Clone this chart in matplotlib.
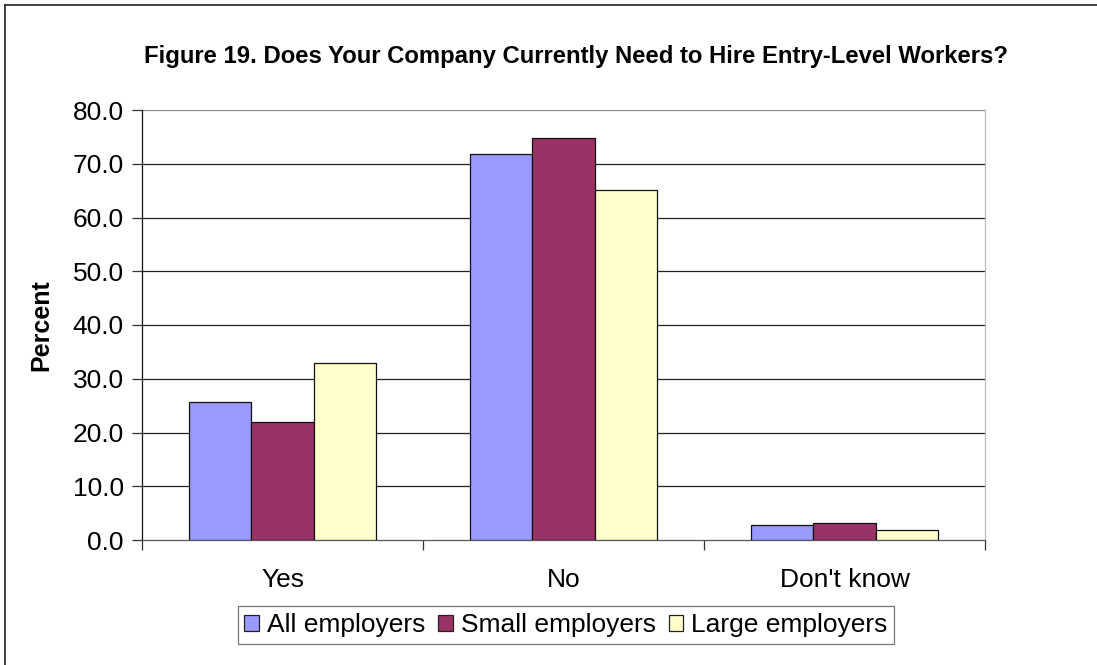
import matplotlib
matplotlib.use("Agg")
import matplotlib.pyplot as plt
from matplotlib.lines import Line2D
from matplotlib.patches import Patch
import numpy as np

plt.rcParams['font.family'] = ['Liberation Sans', 'DejaVu Sans']

categories = ["Yes", "No", "Don't know"]
series_names = ["All employers", "Small employers", "Large employers"]
all_employers = [25.7, 71.8, 2.8]
small_employers = [22.0, 74.8, 3.2]
large_employers = [32.9, 65.2, 1.8]
y_ticks = [0, 10, 20, 30, 40, 50, 60, 70, 80]

colors = ["#9999FF", "#993366", "#FFFFCC"]

W, H = 1097, 665
fig = plt.figure(figsize=(W / 100, H / 100), dpi=100)

# Plot area in pixel units
left, right, top, bottom = 142, 985, 110, 540
ax = fig.add_axes([left / W, 1 - bottom / H, (right - left) / W, (bottom - top) / H])

x = np.arange(len(categories))
bw = 0.222
for i, (vals, c) in enumerate(zip([all_employers, small_employers, large_employers], colors)):
    ax.bar(x + (i - 1) * bw, vals, width=bw, color=c, edgecolor="#111111",
           linewidth=0.9, zorder=3)

ax.set_xlim(-0.5, len(categories) - 0.5)
ax.set_ylim(0, 80)
ax.set_yticks(y_ticks)
ax.set_yticklabels([f"{v:.1f}" for v in y_ticks], fontsize=19)
for v in y_ticks[1:]:
    ax.axhline(v, color="#222222" if v < 80 else "#888888", linewidth=0.9, zorder=1)

# Category boundaries carry the tick marks, names sit in between
ax.set_xticks(np.arange(-0.5, len(categories)), labels=[""] * (len(categories) + 1))
ax.set_xticks(x, labels=categories, minor=True)
ax.tick_params(axis="x", which="major", direction="out", length=7, width=0.9, color="#333333")
ax.tick_params(axis="x", which="minor", length=0, pad=20, labelsize=19)
ax.tick_params(axis="y", direction="out", length=7, width=0.9, color="#333333", pad=6)

ax.spines["top"].set_visible(False)
ax.spines["right"].set_color("#BBBBBB")
ax.spines["left"].set_color("#111111")
ax.spines["bottom"].set_color("#555555")
for s in ax.spines.values():
    s.set_linewidth(0.9)

ax.set_ylabel("Percent", fontsize=18, fontweight="bold", labelpad=14)

fig.text(576 / W, 1 - 57 / H,
         "Figure 19. Does Your Company Currently Need to Hire Entry-Level Workers?",
         ha="center", va="center", fontsize=17.2, fontweight="bold")

handles = [Patch(facecolor=c, edgecolor="#222222", linewidth=0.9) for c in colors]
leg = fig.legend(handles, series_names, loc="center", bbox_to_anchor=(566 / W, 1 - 625 / H),
                 ncol=3, fontsize=19, frameon=True, fancybox=False, edgecolor="#555555",
                 handlelength=0.55, handleheight=0.55, handletextpad=0.3, columnspacing=0.5,
                 borderpad=0.25, borderaxespad=0)
leg.get_frame().set_linewidth(0.9)

# Outer chart frame
fig.add_artist(Line2D([5 / W, 5 / W], [0, 1 - 5 / H], transform=fig.transFigure,
                      color="#333333", linewidth=1.3))
fig.add_artist(Line2D([5 / W, 1], [1 - 5 / H, 1 - 5 / H], transform=fig.transFigure,
                      color="#333333", linewidth=1.3))

fig.savefig("out.png", dpi=100)
